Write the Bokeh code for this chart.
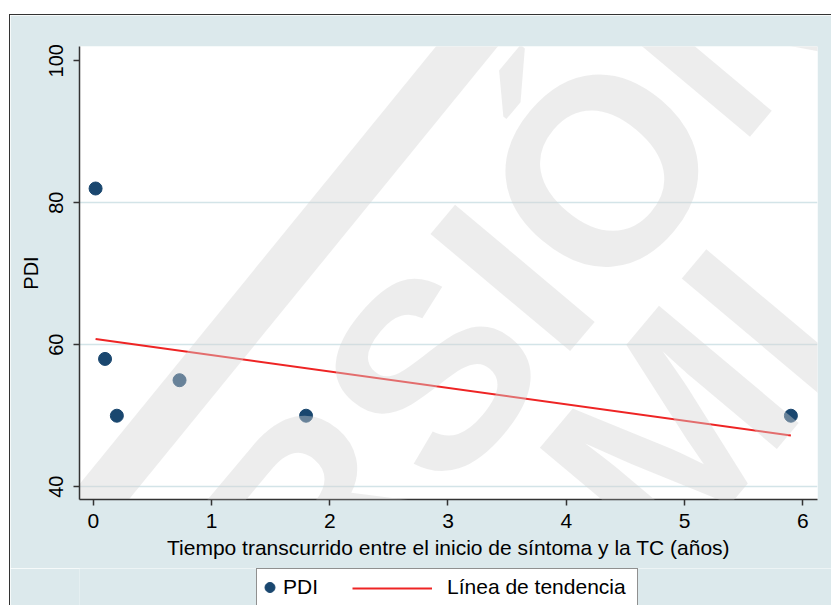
import math
from bokeh.plotting import figure
from bokeh.models import Range1d, FixedTicker, Legend, LegendItem, Label, Spacer
from bokeh.layouts import column, row
from bokeh.embed import file_html
from bokeh.resources import INLINE

# ---- data ----
tiempo = [0.02, 0.10, 0.20, 0.73, 1.80, 5.90]
pdi = [82, 58, 50, 55, 50, 50]
tend_x = [0.02, 5.90]
tend_y = [60.8, 47.2]
x_ticks = [0, 1, 2, 3, 4, 5, 6]
y_ticks = [40, 60, 80, 100]
grid_y = [40, 60, 80]
x_label = "Tiempo transcurrido entre el inicio de síntoma y la TC (años)"
y_label = "PDI"
series_names = ["PDI", "Línea de tendencia"]
watermark_lines = ["VERSIÓN", "MI"]

FONT = "Liberation Sans"
BG = "#dce9ec"
NAVY = "#1a476f"
RED = "#ee2424"
WM_COLOR = "#d5d5d5"
WM_ALPHA = 0.42
EDGE = {"border-left": "1px solid #333333"}

p = figure(frame_width=737, frame_height=452,
           min_border_left=69, min_border_right=15, min_border_top=31, min_border_bottom=70,
           x_range=Range1d(-0.116, 6.125), y_range=Range1d(38.2, 102.0),
           output_backend="svg", toolbar_location=None,
           background_fill_color="white", border_fill_color=BG)
p.outline_line_color = None
p.styles = {"border-top": "1px solid #333333", "border-left": "1px solid #333333"}

# grid
p.xgrid.visible = False
p.ygrid.ticker = FixedTicker(ticks=grid_y)
p.ygrid.grid_line_color = "#d3e4e8"
p.ygrid.grid_line_width = 1.5

# axes
for ax in (p.xaxis[0], p.yaxis[0]):
    ax.axis_line_color = "#333333"
    ax.axis_line_width = 1.5
    ax.major_tick_line_color = "#333333"
    ax.major_tick_line_width = 1.5
    ax.major_tick_out = 6
    ax.major_tick_in = 0
    ax.minor_tick_line_color = None
    ax.major_label_text_font = FONT
    ax.major_label_text_color = "black"
    ax.axis_label_text_font = FONT
    ax.axis_label_text_font_style = "normal"
    ax.axis_label_text_color = "black"

p.xaxis.ticker = FixedTicker(ticks=x_ticks)
p.xaxis.major_label_text_font_size = "21px"
p.xaxis.major_label_standoff = 8
p.xaxis.axis_label = x_label
p.xaxis.axis_label_text_font_size = "21px"
p.xaxis.axis_label_standoff = 5

p.yaxis.ticker = FixedTicker(ticks=y_ticks)
p.yaxis.major_label_text_font_size = "20px"
p.yaxis.major_label_orientation = "vertical"
p.yaxis.major_label_standoff = 10
p.yaxis.axis_label = y_label
p.yaxis.axis_label_text_font_size = "20px"
p.yaxis.axis_label_standoff = 5

# marks
r_line = p.line(tend_x, tend_y, line_color=RED, line_width=2)
r_pts = p.scatter(tiempo, pdi, size=13, fill_color=NAVY, line_color=NAVY)

# watermark (drawn over the marks, like the reference)
p.line([-0.70, 3.474], [23.07, 108.43], line_color=WM_COLOR, line_alpha=WM_ALPHA,
       line_width=48, line_cap="butt")
for txt, wx, wy in zip(watermark_lines, [2.66, 5.066], [52.0, 51.29]):
    p.add_layout(Label(x=wx, y=wy, text=txt, angle=math.radians(50),
                       text_font=FONT, text_font_style="bold", text_font_size="265px",
                       text_color=WM_COLOR, text_alpha=WM_ALPHA,
                       text_align="center", text_baseline="middle"))

# ---- legend strip (separate canvas so nothing is clipped by the plot frame) ----
lg = figure(frame_width=821, frame_height=37, min_border=0,
            x_range=Range1d(-20, -19), y_range=Range1d(-20, -19),
            x_axis_location=None, y_axis_location=None,
            output_backend="svg", toolbar_location=None,
            background_fill_color=BG, border_fill_color=BG)
lg.outline_line_color = None
lg.grid.visible = False
lg.styles = EDGE
lg_pts = lg.scatter(tiempo, pdi, size=13, fill_color=NAVY, line_color=NAVY)
lg_line = lg.line(tend_x, tend_y, line_color=RED, line_width=2)
lg_dummy = lg.line(tend_x, tend_y, line_alpha=0)

legA = Legend(items=[LegendItem(label=series_names[0], renderers=[lg_pts]),
                     LegendItem(label=series_names[1] + "  ", renderers=[lg_dummy])],
              location=(246, -1), orientation="horizontal",
              glyph_width=25, glyph_height=36, label_height=36,
              label_standoff=1, spacing=103, padding=0, margin=0,
              border_line_color="#222222", border_line_width=1.5,
              background_fill_color="white", background_fill_alpha=1.0,
              label_text_font=FONT, label_text_font_size="21px", label_text_color="black")
lg.add_layout(legA, "center")

legB = Legend(items=[LegendItem(label=" ", renderers=[lg_line])],
              location=(342, -1), orientation="horizontal",
              glyph_width=80, glyph_height=36, label_height=36,
              label_standoff=0, padding=0, margin=0,
              border_line_color=None, background_fill_alpha=0,
              label_text_font=FONT, label_text_font_size="21px")
lg.add_layout(legB, "center")

layout = row(Spacer(width=9, height=10), column(Spacer(width=10, height=14), p, lg))
open("out.html", "w").write(file_html(layout, INLINE))
